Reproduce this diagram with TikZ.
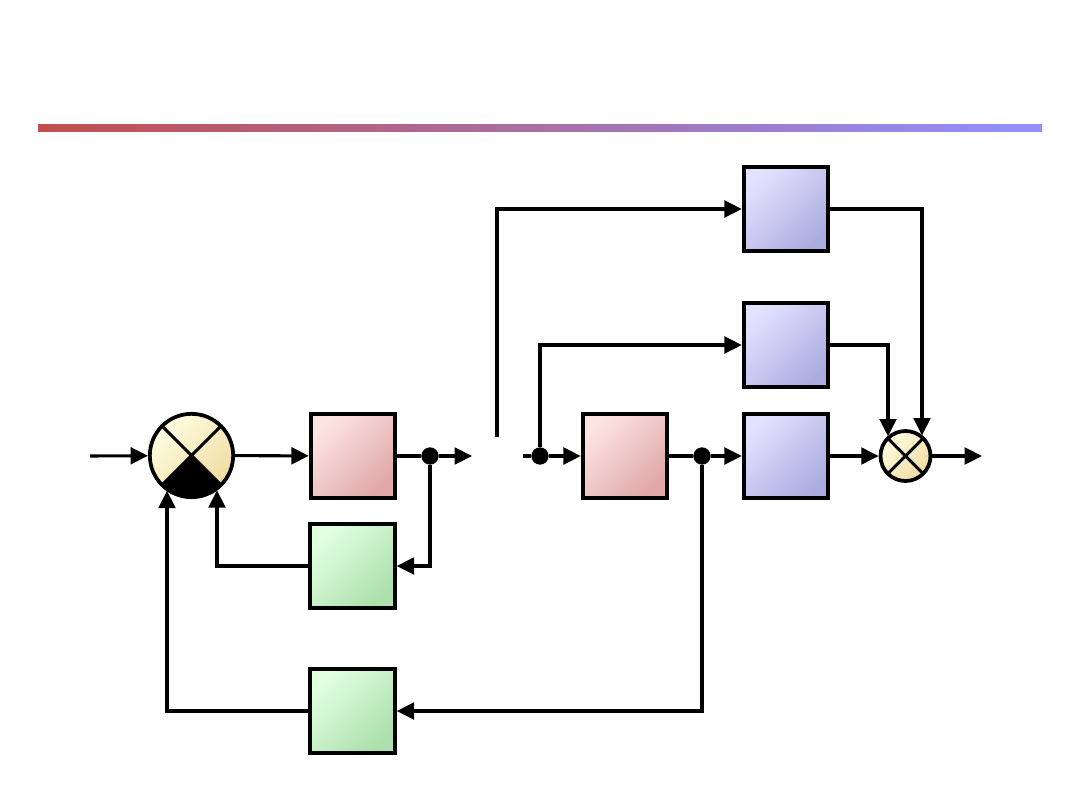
\documentclass[tikz,border=0pt]{standalone}
\usetikzlibrary{arrows.meta}
\definecolor{barL}{HTML}{C0504D}
\definecolor{barR}{HTML}{9090FF}
\definecolor{pinkL}{HTML}{FDE3E3}
\definecolor{pinkD}{HTML}{E0A8A8}
\definecolor{blueL}{HTML}{E2E2FF}
\definecolor{blueD}{HTML}{ACACE0}
\definecolor{greenL}{HTML}{E2FFE2}
\definecolor{greenD}{HTML}{ACE0AC}
\definecolor{creamL}{HTML}{FFFDE2}
\definecolor{creamD}{HTML}{F0DBA0}
\tikzset{
  blockbase/.style={rectangle, draw, line width=2.8pt, minimum size=63.5pt, inner sep=0pt},
  pinkbox/.style={blockbase, left color=pinkL, right color=pinkD, shading angle=45},
  bluebox/.style={blockbase, left color=blueL, right color=blueD, shading angle=45},
  greenbox/.style={blockbase, left color=greenL, right color=greenD, shading angle=45},
  crosslines/.style={path picture={
      \draw[line width=2.3pt] (path picture bounding box.north west) -- (path picture bounding box.south east);
      \draw[line width=2.3pt] (path picture bounding box.north east) -- (path picture bounding box.south west);}},
  sumbig/.style={circle, draw, line width=2.8pt, minimum size=62.5pt, inner sep=0pt,
      left color=creamL, right color=creamD, shading angle=45,
      path picture={
      \fill[black] (path picture bounding box.center) -- (path picture bounding box.south west) -- (path picture bounding box.south east) -- cycle;
      \draw[line width=2.3pt] (path picture bounding box.north west) -- (path picture bounding box.south east);
      \draw[line width=2.3pt] (path picture bounding box.north east) -- (path picture bounding box.south west);}},
  sumsmall/.style={circle, draw, line width=2.8pt, minimum size=37.5pt, inner sep=0pt,
      left color=creamL, right color=creamD, shading angle=45, crosslines},
  junc/.style={circle, fill=black, minimum size=13pt, inner sep=0pt},
  wire/.style={line width=2.3pt},
  arr/.style={wire, -{Triangle[length=13pt,width=12.5pt]}},
}
\begin{document}
\begin{tikzpicture}[x=0.75pt,y=-0.75pt]
\useasboundingbox (0,0) rectangle (1080,810);
% title bar
\shade[left color=barL, right color=barR] (38,124) rectangle (1042,131);

% nodes
\node[sumbig] (s1) at (191.5,455.5) {};
\node[pinkbox] (g1) at (353,456) {};
\node[junc] (d1) at (430,456) {};
\coordinate (a1) at (472,456);
\coordinate (t0) at (497,437);
\coordinate (t1) at (497,209);
\coordinate (m0) at (523,456);
\node[junc] (d2) at (540,456) {};
\node[pinkbox] (g2) at (625,456) {};
\node[junc] (d3) at (702,456) {};
\node[bluebox] (b1) at (786,209) {};
\node[bluebox] (b2) at (786,345) {};
\node[bluebox] (b3) at (786,456) {};
\node[sumsmall] (s2) at (905.5,456) {};
\coordinate (out) at (982,456);
\coordinate (in) at (90,456);
\node[greenbox] (h1) at (352.5,566) {};
\node[greenbox] (h2) at (352.5,711) {};
\coordinate (r1) at (922,209);
\coordinate (r2) at (888,345);
\coordinate (f1) at (217,566);
\coordinate (f2) at (167,711);

% main path
\draw[arr] (in) -- (s1);
\draw[arr] (s1) -- (g1);
\draw[wire] (g1) -- (d1);
\draw[arr] (d1) -- (a1);
\draw[arr] (t0) -- (t1) -- (b1);
\draw[wire] (m0) -- (d2);
\draw[arr] (d2) -- (g2);
\draw[wire] (g2) -- (d3);
\draw[arr] (d3) -- (b3);
\draw[arr] (b3) -- (s2);
\draw[arr] (s2) -- (out);
\draw[arr] (d2) |- (b2);

% to right sum
\draw[arr] (b1.east) -- (r1) -- (r1 |- s2.50);
\draw[arr] (b2.east) -- (r2) -- (r2 |- s2.133);

% feedback
\draw[arr] (d1) |- (h1);
\draw[arr] (h1.west) -- (f1) -- (f1 |- s1.-53);
\draw[arr] (d3) |- (h2);
\draw[arr] (h2.west) -- (f2) -- (f2 |- s1.-126);
\end{tikzpicture}
\end{document}
